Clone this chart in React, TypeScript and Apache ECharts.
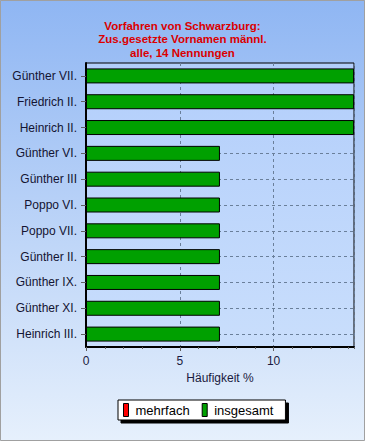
import React, { useEffect, useRef } from "react";
import * as echarts from "echarts";

const titleLines = ["Vorfahren von Schwarzburg:", "Zus.gesetzte Vornamen männl.", "alle, 14 Nennungen"];
const categories = [
  "Günther VII.",
  "Friedrich II.",
  "Heinrich II.",
  "Günther VI.",
  "Günther III",
  "Poppo VI.",
  "Poppo VII.",
  "Günther II.",
  "Günther IX.",
  "Günther XI.",
  "Heinrich III.",
];
const insgesamt = [14.29, 14.29, 14.29, 7.14, 7.14, 7.14, 7.14, 7.14, 7.14, 7.14, 7.14];
const mehrfach = [0, 0, 0, 0, 0, 0, 0, 0, 0, 0, 0];
const xMax = 100 / 7;
const xTickStep = 5;
const xMinorStep = 1;
const seriesNames = ["mehrfach", "insgesamt"];
const xAxisName = "Häufigkeit %";

export default function App() {
  const ref = useRef<HTMLDivElement>(null);
  useEffect(() => {
    if (!ref.current) return;
    const chart = echarts.init(ref.current, null, { renderer: "svg" });
    const font = "'Liberation Sans', Arial, sans-serif";
    const gridLine = { color: "#6a7f9a", type: [3, 3], width: 1 };
    chart.setOption({
      animation: false,
      backgroundColor: {
        type: "linear",
        x: 0, y: 0, x2: 0, y2: 1,
        colorStops: [
          { offset: 0, color: "#8fb6f3" },
          { offset: 1, color: "#e6f0fc" },
        ],
      },
      title: {
        text: titleLines.join("\n"),
        left: "center",
        top: 14,
        textStyle: { color: "#dc0000", fontSize: 11.5, fontWeight: "bold", fontFamily: font, lineHeight: 13.5 },
      },
      graphic: [
        {
          type: "rect",
          shape: { x: 0.5, y: 0.5, width: 364, height: 440 },
          style: { fill: "none", stroke: "#a0a0a0", lineWidth: 1 },
          silent: true,
        },
      ],
      legend: {
        data: seriesNames,
        left: 118,
        top: 400,
        icon: "rect",
        itemWidth: 5,
        itemHeight: 13,
        itemGap: 12,
        padding: [3, 12, 3, 5],
        backgroundColor: "#ffffff",
        borderColor: "#000000",
        borderWidth: 1,
        shadowColor: "#000000",
        shadowOffsetX: 3,
        shadowOffsetY: 3,
        shadowBlur: 0,
        itemStyle: { borderColor: "#000000", borderWidth: 1 },
        textStyle: { fontSize: 13, color: "#000000", fontFamily: font, padding: [0, 0, 0, 2] },
      },
      grid: {
        left: 86,
        right: 11,
        top: 63,
        bottom: 94,
        show: true,
        backgroundColor: {
          type: "linear",
          x: 0, y: 0, x2: 0, y2: 1,
          colorStops: [
            { offset: 0, color: "#b2cefb" },
            { offset: 1, color: "#c9defc" },
          ],
        },
        borderColor: "#000000",
        borderWidth: 1,
      },
      xAxis: [
        {
          type: "value",
          min: 0,
          max: xMax,
          interval: xTickStep,
          name: xAxisName,
          nameLocation: "middle",
          nameGap: 25,
          nameTextStyle: { fontSize: 12, color: "#1a1a40", fontFamily: font },
          axisLine: { show: true, onZero: false, lineStyle: { color: "#000000", width: 2 } },
          axisTick: { show: true, length: 4, lineStyle: { color: "#606060" } },
          axisLabel: {
            show: true,
            margin: 8,
            fontSize: 12,
            color: "#1a1a40",
            fontFamily: font,
            showMaxLabel: false,
            formatter: (v: number) => (Math.abs(v - Math.round(v)) < 1e-6 ? String(Math.round(v)) : ""),
          },
          splitLine: { show: true, lineStyle: gridLine },
        },
        {
          type: "value",
          min: 0,
          max: xMax,
          interval: xMinorStep,
          position: "bottom",
          axisLine: { show: false, onZero: false },
          axisTick: { show: true, length: 2, lineStyle: { color: "#606060" } },
          axisLabel: { show: false },
          splitLine: { show: false },
        },
      ],
      yAxis: [
        {
          type: "category",
          data: categories,
          inverse: true,
          axisLine: { show: true, onZero: false, lineStyle: { color: "#000000", width: 2 } },
          axisTick: { show: true, length: 5, alignWithLabel: true, lineStyle: { color: "#606060" } },
          axisLabel: { fontSize: 12, color: "#141432", fontFamily: font, margin: 9 },
          splitLine: { show: true, alignWithLabel: true, lineStyle: gridLine },
        },
      ],
      series: [
        {
          name: seriesNames[0],
          type: "bar",
          data: mehrfach,
          barWidth: 15,
          barGap: "-100%",
          z: 3,
          itemStyle: { color: "#ff0000", borderColor: "#000000", borderWidth: 0 },
        },
        {
          name: seriesNames[1],
          type: "bar",
          data: insgesamt,
          barWidth: 15,
          barGap: "-100%",
          z: 2,
          itemStyle: { color: "#00a000", borderColor: "#000000", borderWidth: 1 },
        },
      ],
    });
    return () => chart.dispose();
  }, []);
  return <div ref={ref} style={{ position: "fixed", left: 0, top: 0, width: 365, height: 441 }} />;
}
